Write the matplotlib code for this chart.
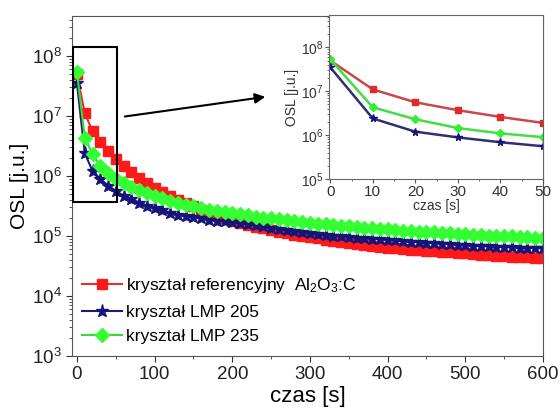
import matplotlib
matplotlib.use("Agg")
import matplotlib.pyplot as plt
import matplotlib.patches as patches
from matplotlib.ticker import LogLocator, MultipleLocator, NullFormatter

plt.rcParams['font.family'] = ['Liberation Sans', 'DejaVu Sans']
plt.rcParams['mathtext.fontset'] = 'custom'
plt.rcParams['mathtext.rm'] = 'Liberation Sans'
plt.rcParams['mathtext.it'] = 'Liberation Sans:italic'

# time axis (s), one point every 10 s
czas = list(range(0, 610, 10))

ref = [5.0e7, 1.1e7, 5.6e6, 3.7e6, 2.6e6, 1.9e6, 1.45e6, 1.15e6, 9.2e5, 7.6e5,
       6.3e5, 5.4e5, 4.6e5, 4.0e5, 3.5e5, 3.1e5, 2.75e5, 2.45e5, 2.2e5, 2.0e5,
       1.8e5, 1.66e5, 1.54e5, 1.43e5, 1.34e5, 1.25e5, 1.18e5, 1.11e5, 1.05e5, 1.0e5,
       9.5e4, 9.1e4, 8.7e4, 8.3e4, 8.0e4, 7.7e4, 7.4e4, 7.1e4, 6.8e4, 6.6e4,
       6.4e4, 6.2e4, 6.0e4, 5.9e4, 5.75e4, 5.6e4, 5.5e4, 5.4e4, 5.3e4, 5.25e4,
       5.2e4, 5.0e4, 4.9e4, 4.8e4, 4.7e4, 4.6e4, 4.5e4, 4.45e4, 4.4e4, 4.35e4,
       4.3e4]

lmp205 = [3.5e7, 2.4e6, 1.2e6, 8.9e5, 6.9e5, 5.6e5, 4.7e5, 4.1e5, 3.6e5, 3.2e5,
          2.9e5, 2.65e5, 2.45e5, 2.27e5, 2.12e5, 2.05e5, 1.95e5, 1.87e5, 1.8e5, 1.75e5,
          1.7e5, 1.63e5, 1.56e5, 1.5e5, 1.44e5, 1.36e5, 1.3e5, 1.24e5, 1.19e5, 1.14e5,
          1.1e5, 1.07e5, 1.04e5, 1.01e5, 9.8e4, 9.6e4, 9.4e4, 9.2e4, 9.0e4, 8.8e4,
          8.6e4, 8.4e4, 8.2e4, 8.0e4, 7.9e4, 7.7e4, 7.6e4, 7.4e4, 7.3e4, 7.15e4,
          7.0e4, 6.9e4, 6.8e4, 6.7e4, 6.6e4, 6.5e4, 6.45e4, 6.4e4, 6.35e4, 6.3e4,
          6.2e4]

lmp235 = [5.3e7, 4.3e6, 2.3e6, 1.45e6, 1.1e6, 9.0e5, 7.6e5, 6.6e5, 5.8e5, 5.1e5,
          4.6e5, 4.2e5, 3.85e5, 3.55e5, 3.3e5, 3.1e5, 2.9e5, 2.75e5, 2.6e5, 2.5e5,
          2.4e5, 2.3e5, 2.2e5, 2.1e5, 2.02e5, 1.95e5, 1.88e5, 1.82e5, 1.76e5, 1.7e5,
          1.65e5, 1.6e5, 1.56e5, 1.52e5, 1.48e5, 1.44e5, 1.4e5, 1.37e5, 1.34e5, 1.31e5,
          1.28e5, 1.25e5, 1.23e5, 1.2e5, 1.18e5, 1.16e5, 1.14e5, 1.12e5, 1.1e5, 1.08e5,
          1.06e5, 1.04e5, 1.03e5, 1.01e5, 1.0e5, 9.9e4, 9.8e4, 9.6e4, 9.5e4, 9.4e4,
          9.3e4]

labels = ["kryształ referencyjny  Al$_2$O$_3$:C", "kryształ LMP 205", "kryształ LMP 235"]

# inset: first 50 s
czas_in = czas[:6]

fig = plt.figure(figsize=(5.6, 4.08), dpi=100)
ax = fig.add_axes([0.1286, 0.1275, 0.841, 0.8333])

ax.plot(czas, ref, '-s', color='#e03030', mfc='#ff1a1a', mec='#ff1a1a', ms=7.2, lw=1.5, label=labels[0])
ax.plot(czas, lmp205, '-*', color='#1c1c78', mfc='#14147a', mec='#14147a', ms=9.5, lw=1.5, label=labels[1])
ax.plot(czas, lmp235, '-D', color='#33dd33', mfc='#33ff33', mec='#33ff33', ms=7, lw=1.5, label=labels[2])

ax.set_yscale('log')
ax.set_xlim(-6.4, 600)
ax.set_ylim(1e3, 4.6e8)
ax.xaxis.set_major_locator(MultipleLocator(100))
ax.xaxis.set_minor_locator(MultipleLocator(50))
ax.yaxis.set_major_locator(LogLocator(base=10, numticks=10))
ax.yaxis.set_minor_locator(LogLocator(base=10, subs=range(2, 10), numticks=10))
ax.yaxis.set_minor_formatter(NullFormatter())
ax.tick_params(which='both', direction='out', top=False, right=False, labelsize=13.5,
               colors='#333333', labelcolor='#222222')
ax.tick_params(which='major', length=4)
ax.tick_params(which='minor', length=2.5)
for s in ax.spines.values():
    s.set_color('#555555')
ax.set_xlabel("czas [s]", fontsize=16, labelpad=2)
ax.set_ylabel("OSL [j.u.]", fontsize=15, labelpad=2)

leg = ax.legend(loc='lower left', bbox_to_anchor=(-0.012, -0.012), frameon=False, fontsize=12.5,
                handlelength=2.3, handletextpad=0.25, labelspacing=0.55, markerscale=1.0)

# zoom rectangle and arrow
rect = patches.Rectangle((-5, 3.7e5), 56.5, 1.4e8 - 3.7e5, fill=False, ec='k', lw=1.5, zorder=5)
ax.add_patch(rect)
ax.annotate('', xy=(246, 2.1e7), xytext=(58, 9.6e6),
            arrowprops=dict(arrowstyle='-|>', color='k', lw=1.5, mutation_scale=15))

# inset
axi = fig.add_axes([0.5875, 0.561, 0.382, 0.402])
axi.plot(czas_in, ref[:6], '-s', color='#c84848', mfc='#e02a2a', mec='#e02a2a', ms=4.3, lw=1.8)
axi.plot(czas_in, lmp235[:6], '-D', color='#44dd44', mfc='#33ee33', mec='#33ee33', ms=4.0, lw=1.8)
axi.plot(czas_in, lmp205[:6], '-*', color='#303070', mfc='#14147a', mec='#14147a', ms=5.5, lw=1.8)
axi.set_yscale('log')
axi.set_xlim(-0.3, 50)
axi.set_ylim(1e5, 5.4e8)
axi.xaxis.set_major_locator(MultipleLocator(10))
axi.xaxis.set_minor_locator(MultipleLocator(5))
axi.yaxis.set_major_locator(LogLocator(base=10, numticks=10))
axi.yaxis.set_minor_locator(LogLocator(base=10, subs=range(2, 10), numticks=10))
axi.yaxis.set_minor_formatter(NullFormatter())
axi.tick_params(which='both', direction='out', top=False, right=False, colors='#555555',
                labelcolor='#333333')
axi.tick_params(axis='x', labelsize=11, pad=1)
axi.tick_params(axis='y', labelsize=10, pad=1)
axi.tick_params(which='major', length=3)
axi.tick_params(which='minor', length=1.5)
for s in axi.spines.values():
    s.set_color('#666666')
axi.set_xlabel("czas [s]", fontsize=10, labelpad=0, color='#333333')
axi.set_ylabel("OSL [j.u.]", fontsize=10, labelpad=1, color='#333333')

fig.savefig("out.png", dpi=100)
